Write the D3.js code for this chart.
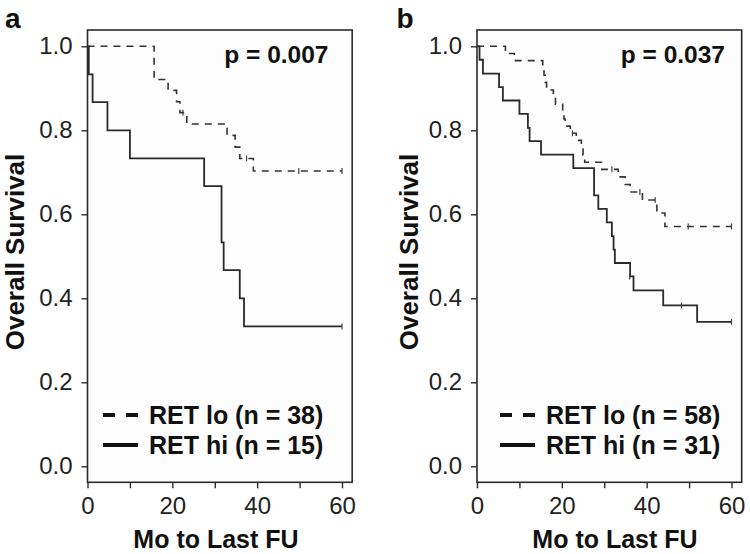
<!DOCTYPE html>
<html>
<head>
<meta charset="utf-8">
<script src="https://cdn.jsdelivr.net/npm/d3@7"></script>
<style>
  html, body { margin: 0; padding: 0; background: #fff; }
  svg { display: block; font-family: "Liberation Sans", Arial, Helvetica, sans-serif; }
</style>
</head>
<body>
<svg id="chart" width="750" height="554"></svg>
<script>
// ---------------- data ----------------
const yTicks = [0, 0.2, 0.4, 0.6, 0.8, 1.0];
const xTicks = [0, 10, 20, 30, 40, 50, 60];
const xTickLabels = [0, 20, 40, 60];

// Panel a
const aLoTime = [0, 15.7, 19.0, 21.0, 21.8, 23.4, 32.9, 34.8, 35.9, 39.1, 60];
const aLoSurv = [1, 0.921, 0.895, 0.868, 0.842, 0.815, 0.788, 0.760, 0.733, 0.703, 0.703];
const aLoCensT = [22.5, 37.5, 49.8, 60];
const aLoCensS = [0.842, 0.733, 0.703, 0.703];
const aHiTime = [0, 0.3, 1.2, 4.7, 10.0, 27.5, 31.6, 32.1, 35.9, 36.9, 60];
const aHiSurv = [1, 0.933, 0.867, 0.800, 0.733, 0.667, 0.533, 0.467, 0.400, 0.333, 0.333];
const aHiCensT = [60];
const aHiCensS = [0.333];

// Panel b
const bLoTime = [0, 6.7, 8.8, 15.5, 15.8, 16.1, 16.4, 18.0, 18.5, 20.2, 20.5, 20.8, 22.0, 23.4, 24.6, 25.0, 25.4, 29.4, 33.3, 34.9, 36.1, 39.0, 42.4, 44.3, 60];
const bLoSurv = [1, 0.983, 0.966, 0.948, 0.931, 0.914, 0.896, 0.879, 0.862, 0.845, 0.827, 0.810, 0.793, 0.776, 0.758, 0.741, 0.724, 0.707, 0.689, 0.671, 0.653, 0.634, 0.603, 0.571, 0.571];
const bLoCensT = [22.5, 31.8, 38.4, 42.0, 49.8, 60];
const bLoCensS = [0.793, 0.707, 0.653, 0.634, 0.571, 0.571];
const bHiTime = [0, 0.6, 1.4, 5.2, 6.1, 10.0, 12.0, 12.4, 15.1, 22.7, 27.6, 28.6, 30.6, 31.8, 32.2, 32.5, 36.1, 36.9, 43.9, 51.9, 60];
const bHiSurv = [1, 0.968, 0.935, 0.903, 0.871, 0.839, 0.806, 0.774, 0.742, 0.710, 0.645, 0.613, 0.581, 0.548, 0.516, 0.484, 0.452, 0.419, 0.383, 0.344, 0.344];
const bHiCensT = [36.0, 48.2, 60];
const bHiCensS = [0.452, 0.383, 0.344];

const panelLetters = ["a", "b"];
const pValues = ["p = 0.007", "p = 0.037"];
const loLabels = ["RET lo (n = 38)", "RET lo (n = 58)"];
const hiLabels = ["RET hi (n = 15)", "RET hi (n = 31)"];
const yTitle = "Overall Survival";
const xTitle = "Mo to Last FU";

// ---------------- drawing ----------------
const svg = d3.select("#chart");
const ink = "#2a2a2a";

const panels = [
  { ox: 0, lo: [aLoTime, aLoSurv, aLoCensT, aLoCensS], hi: [aHiTime, aHiSurv, aHiCensT, aHiCensS] },
  { ox: 389.5, lo: [bLoTime, bLoSurv, bLoCensT, bLoCensS], hi: [bHiTime, bHiSurv, bHiCensT, bHiCensS] }
];

panels.forEach((p, i) => {
  const g = svg.append("g").attr("transform", `translate(${p.ox},0)`);
  const x = d3.scaleLinear().domain([0, 60]).range([87.5, 342]);
  const y = d3.scaleLinear().domain([0, 1]).range([466.3, 46.3]);
  const boxL = x(0), boxR = x(62.4), boxT = 30, boxB = 482.3;

  // plot background & frame
  g.append("rect").attr("x", boxL).attr("y", boxT)
    .attr("width", boxR - boxL).attr("height", boxB - boxT)
    .attr("fill", "#fdfdfd").attr("stroke", ink).attr("stroke-width", 1.6);

  // y axis
  const ya = g.append("g").attr("transform", `translate(${boxL},0)`)
    .call(d3.axisLeft(y).tickValues(yTicks).tickSize(6).tickPadding(9).tickFormat(d3.format(".1f")));
  ya.select(".domain").remove();
  ya.selectAll("line").attr("stroke", ink).attr("stroke-width", 1.4);
  ya.selectAll("text").attr("font-size", 24).attr("fill", "#222")
    .attr("font-family", "Liberation Sans, Arial, sans-serif");

  // x axis
  const xa = g.append("g").attr("transform", `translate(0,${boxB})`)
    .call(d3.axisBottom(x).tickValues(xTicks).tickSize(6).tickPadding(9)
      .tickFormat(d => xTickLabels.includes(d) ? d : ""));
  xa.select(".domain").remove();
  xa.selectAll("line").attr("stroke", ink).attr("stroke-width", 1.4);
  xa.selectAll("text").attr("font-size", 24).attr("fill", "#222")
    .attr("font-family", "Liberation Sans, Arial, sans-serif");

  const line = d3.line().x(d => x(d[0])).y(d => y(d[1])).curve(d3.curveStepAfter);

  // curves
  const drawCurve = (arr, dashed) => {
    const pts = arr[0].map((t, k) => [t, arr[1][k]]);
    g.append("path").datum(pts).attr("d", line)
      .attr("fill", "none").attr("stroke", dashed ? "#333" : "#2a2a2a")
      .attr("stroke-width", dashed ? 1.6 : 1.8)
      .attr("stroke-dasharray", dashed ? "7,6" : null);
    const cens = arr[2].map((t, k) => [t, arr[3][k]]);
    g.selectAll(null).data(cens).enter().append("line")
      .attr("x1", d => x(d[0])).attr("x2", d => x(d[0]))
      .attr("y1", d => y(d[1]) - 3).attr("y2", d => y(d[1]) + 3)
      .attr("stroke", "#444").attr("stroke-width", 1.2);
  };
  drawCurve(p.lo, true);
  drawCurve(p.hi, false);

  // panel letter
  g.append("text").attr("x", i === 0 ? 5 : 7).attr("y", 28)
    .attr("font-size", 28).attr("font-weight", "bold").attr("fill", "#111")
    .text(panelLetters[i]);

  // p-value
  g.append("text").attr("x", i === 0 ? 328.5 : 335.5).attr("y", 63)
    .attr("text-anchor", "end").attr("font-size", 24.5).attr("font-weight", "bold").attr("fill", "#111")
    .text(pValues[i]);

  // y title
  g.append("text")
    .attr("transform", `translate(${i === 0 ? 24 : 28.5},252) rotate(-90)`)
    .attr("text-anchor", "middle").attr("font-size", 26).attr("font-weight", "bold").attr("fill", "#111")
    .text(yTitle);

  // x title
  g.append("text").attr("x", i === 0 ? 216 : 225.5).attr("y", 548)
    .attr("text-anchor", "middle").attr("font-size", 25).attr("font-weight", "bold").attr("fill", "#111")
    .text(xTitle);

  // legend
  const lx0 = i === 0 ? 103 : 110.5, lx1 = lx0 + 35, tx = lx0 + 46;
  g.append("line").attr("x1", lx0).attr("x2", lx1).attr("y1", 415).attr("y2", 415)
    .attr("stroke", "#111").attr("stroke-width", 4).attr("stroke-dasharray", "12,11");
  g.append("line").attr("x1", lx0).attr("x2", lx1).attr("y1", 445).attr("y2", 445)
    .attr("stroke", "#111").attr("stroke-width", 4);
  g.append("text").attr("x", tx).attr("y", 424)
    .attr("font-size", 25).attr("font-weight", "bold").attr("fill", "#111").text(loLabels[i]);
  g.append("text").attr("x", tx).attr("y", 454)
    .attr("font-size", 25).attr("font-weight", "bold").attr("fill", "#111").text(hiLabels[i]);
});
</script>
</body>
</html>
